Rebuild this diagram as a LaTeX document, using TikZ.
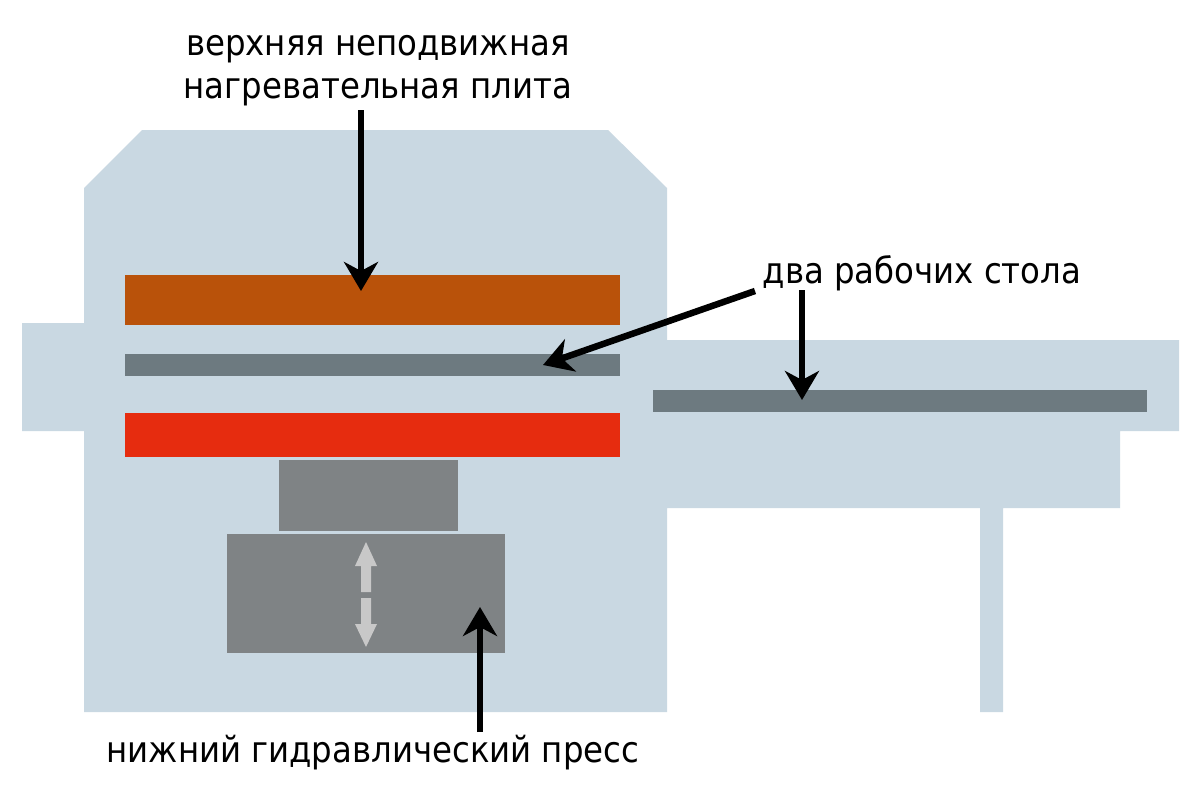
\documentclass[tikz,border=0pt]{standalone}
\usepackage{fontspec}
\setmainfont{DejaVu Sans Condensed}
\usetikzlibrary{arrows.meta}
\definecolor{frameblue}{HTML}{C9D8E2}
\definecolor{platen}{HTML}{B9520A}
\definecolor{tablegray}{HTML}{6D7A80}
\definecolor{hotred}{HTML}{E62C0F}
\definecolor{pressgray}{HTML}{7F8385}
\definecolor{motion}{HTML}{C8C8C8}
\tikzset{
  x=1pt,y=-1pt,
  label/.style={inner sep=0pt,font=\fontsize{36}{43}\selectfont,align=center,text=black},
  ptr/.style={line width=6.5pt,-{Stealth[length=29pt,width=34pt,inset=9pt]}},
}
\begin{document}
\begin{tikzpicture}
\useasboundingbox (0,0) rectangle (1200,800);
\fill[white] (0,0) rectangle (1200,800);
\fill[frameblue] (84,188) -- (142,130) -- (608,130) -- (667,188) -- (667,340) -- (1179,340) -- (1179,431) -- (1120,431) -- (1120,508) -- (1003,508) -- (1003,712) -- (980,712) -- (980,508) -- (667,508) -- (667,712) -- (84,712) -- (84,431) -- (22,431) -- (22,323) -- (84,323) -- cycle;
\fill[platen] (125,275) rectangle (620,325);
\fill[tablegray] (125,354) rectangle (620,376);
\fill[hotred] (125,413) rectangle (620,457);
\fill[tablegray] (653,390) rectangle (1147,412);
\fill[pressgray] (279,460) rectangle (458,531);
\fill[pressgray] (227,534) rectangle (505,653);
\fill[motion] (366,542) -- (377,566) -- (371,566) -- (371,592) -- (361,592) -- (361,566) -- (355,566) -- cycle;
\fill[motion] (366,647) -- (377,624) -- (371,624) -- (371,598) -- (361,598) -- (361,624) -- (355,624) -- cycle;
\node[label] (top) at (378,70.5) {верхняя неподвижная\\нагревательная плита};
\node[label] (tables) at (922,273) {два рабочих стола};
\node[label] (press) at (373,753) {нижний гидравлический пресс};
\coordinate (topstart) at (361,110);
\coordinate (toptip) at (361,291);
\coordinate (tabstartA) at (755,291);
\coordinate (tabtipA) at (543,365);
\coordinate (tabstartB) at (802,290);
\coordinate (tabtipB) at (802,400);
\coordinate (pressstart) at (480,732);
\coordinate (presstip) at (480,607);
\draw[ptr] (topstart) -- (toptip);
\draw[ptr] (tabstartA) -- (tabtipA);
\draw[ptr] (tabstartB) -- (tabtipB);
\draw[ptr] (pressstart) -- (presstip);
\end{tikzpicture}
\end{document}
